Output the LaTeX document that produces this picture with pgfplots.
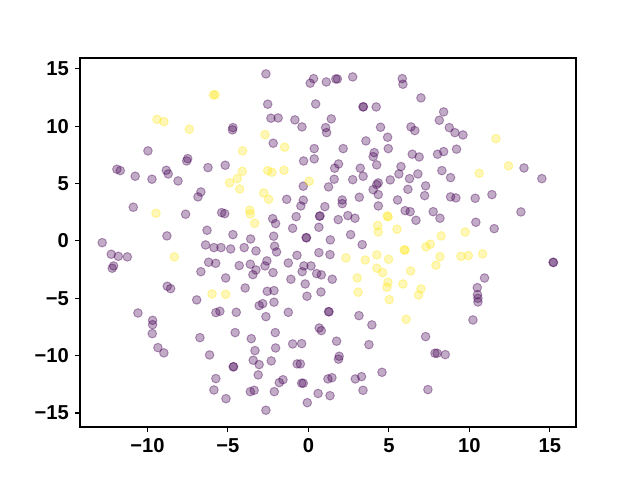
\documentclass[border=0pt]{standalone}
\usepackage{fontspec}
\setmainfont{Liberation Sans}
\usepackage{pgfplots}
\pgfplotsset{compat=1.18}
\definecolor{vpurple}{HTML}{440154}
\definecolor{vyellow}{HTML}{FDE725}
\begin{document}
\begin{tikzpicture}
\path[use as bounding box] (-57.6pt,-38.16pt) rectangle (403.2pt,307.44pt);
\begin{axis}[
  at={(0,0)}, anchor=south west,
  scale only axis, width=357.1pt, height=265.7pt,
  xmin=-14.19, xmax=16.62, ymin=-16.22, ymax=15.95,
  axis line style={line width=0.8pt, black},
  tick align=outside, major tick length=3.5pt,
  xtick pos=bottom, ytick pos=left,
  tick style={line width=0.8pt, black},
  xtick={-10,-5,0,5,10,15}, xticklabels={−10,−5,0,5,10,15},
  ytick={-15,-10,-5,0,5,10,15}, yticklabels={−15,−10,−5,0,5,10,15},
  tick label style={font=\fontsize{14.5}{16}\selectfont\bfseries},
  xticklabel style={yshift=-1pt},
  yticklabel style={xshift=-1pt},
  clip=false,
]
\addplot[only marks, mark=*, mark size=3.1pt, color=vpurple, mark options={line width=0.7pt, fill opacity=0.33, draw opacity=0.38}] table {
x y
-4.69 9.88
-4.72 9.68
-9.97 7.85
-7.5 7.18
-7.56 6.97
-11.9 6.25
-11.69 6.13
-10.76 5.64
-9.72 5.38
-8.83 6.16
-8.71 5.84
-8.1 5.23
-6.24 6.39
-5.17 6.6
-2.64 14.56
0.32 14.15
0.11 13.75
1.11 13.86
1.7 14.12
1.8 14.12
2.75 14.3
5.83 14.15
5.87 13.66
-2.53 11.92
0.45 11.94
3.39 11.68
3.42 11.7
4.21 11.68
-2.33 10.7
-1.88 10.72
-0.84 10.55
-0.4 9.94
1.42 10.64
1.07 9.88
1.13 9.44
4.48 9.91
6.37 9.94
6.61 9.62
4.92 9.04
3.57 8.72
-2.19 8.52
0.36 8.05
2.16 8.05
4.96 8.05
4.09 7.7
4.02 7.35
6.45 7.56
-0.3 6.97
0.36 7.15
1.87 6.71
1.63 6.34
3.22 6.34
4.24 6.63
3.4 5.64
5.75 6.48
5.62 5.84
6.28 5.43
1.6 5.38
2.75 5.34
4.34 5.06
5.08 5.32
6.99 12.47
8.4 11.25
8.13 10.52
8.75 9.88
9.1 9.44
9.6 9.24
6.88 7.32
8.02 7.56
8.4 7.79
9.2 8.0
13.39 6.36
14.5 5.43
6.8 5.84
8.29 6.13
8.83 5.52
7.28 4.8
-6.68 4.27
-6.86 3.84
-10.88 2.94
-7.63 2.33
-5.39 2.47
-5.2 2.38
-6.3 0.93
-4.69 0.55
-8.79 0.44
-12.81 -0.15
-6.39 -0.35
-5.87 -0.58
-5.43 -0.58
-4.83 -0.7
-3.99 -0.58
-12.25 -1.16
-11.81 -1.34
-11.25 -1.39
-12.1 -2.18
-12.19 -2.38
-6.2 -1.86
-5.76 -1.95
-6.68 -2.68
-4.3 -2.15
-5.14 -3.23
-3.93 -4.1
-8.77 -3.95
-8.56 -4.16
-6.94 -5.14
-0.32 4.77
1.25 4.71
4.24 4.91
4.02 4.47
4.34 4.04
6.18 4.5
-1.35 3.63
-0.32 3.55
-0.47 3.05
1.02 2.99
2.1 3.57
2.1 3.25
3.16 3.81
4.34 3.05
5.54 3.57
6.01 2.64
6.32 2.55
6.68 1.8
7.75 2.55
8.17 1.98
-2.22 1.94
-2.04 1.51
-0.76 2.12
0.69 2.15
0.72 2.18
0.65 1.19
-0.98 1.1
1.85 1.86
2.45 2.21
2.89 1.98
2.62 0.55
1.36 0.09
-0.14 0.29
-0.12 0.27
-2.16 0.41
-3.59 0.17
-2.1 -0.46
-1.98 -0.96
-3.26 -0.87
3.34 -0.32
-0.71 -1.25
0.65 -1.02
1.34 -1.19
-1.25 -1.92
-2.58 -1.74
-2.7 -2.18
-3.61 -2.03
-3.26 -2.53
-3.45 -2.94
-2.2 -2.76
-0.28 -2.18
0.16 -2.18
-0.39 -2.68
0.51 -2.85
0.8 -2.96
1.48 -3.34
-1.09 -3.34
-2.56 -4.39
-2.14 -4.33
-0.2 -3.75
0.78 -4.45
-0.09 -4.82
7.22 3.95
8.83 3.84
9.16 3.75
10.36 3.72
11.4 4.04
13.2 2.53
10.4 1.63
11.54 1.07
15.2 -1.86
15.22 -1.88
10.94 -3.23
10.49 -4.07
10.5 -4.68
10.53 -5.0
10.53 -5.32
-10.59 -6.28
-9.68 -6.92
-9.68 -7.3
-9.7 -8.08
-9.35 -9.3
-8.98 -9.76
-6.74 -8.43
-5.75 -6.25
-5.5 -6.13
-4.48 -6.22
-4.55 -7.99
-6.14 -9.94
-4.67 -10.98
-4.65 -10.96
-5.75 -12.0
-5.87 -12.99
-5.12 -13.75
-3.61 -13.14
-3.37 -13.02
-2.12 -13.14
-2.64 -14.76
-1.81 -12.35
-1.58 -12.1
-0.42 -12.4
-0.32 -12.4
-0.07 -14.1
0.6 -13.3
1.34 -13.49
-3.06 -5.64
-2.84 -5.47
-2.14 -5.34
-2.64 -6.6
-1.25 -6.22
1.25 -6.16
1.28 -6.18
3.14 -6.51
3.94 -7.32
-2.06 -7.99
-3.55 -8.52
0.67 -7.59
0.8 -7.82
1.75 -8.74
3.76 -9.04
-0.98 -8.98
-0.42 -8.95
-2.04 -9.33
-3.32 -9.56
1.91 -10.05
1.87 -10.31
-3.43 -10.4
-3.06 -10.78
-2.31 -10.46
-0.7 -10.72
-0.5 -10.72
-3.12 -11.68
1.21 -12.03
1.46 -11.92
2.91 -12.03
3.3 -11.83
4.57 -11.45
3.39 -13.02
10.22 -6.89
7.28 -8.34
7.86 -9.79
8.0 -9.79
8.5 -9.91
7.42 -12.96
};
\addplot[only marks, mark=*, mark size=3.1pt, color=vyellow, mark options={line width=0.7pt, fill opacity=0.33, draw opacity=0.38}] table {
x y
-5.9 12.72
-5.8 12.75
-9.41 10.6
-8.98 10.4
-7.4 9.74
-4.09 7.85
-4.11 6.07
-4.42 5.43
-4.9 5.06
-2.7 9.27
-1.48 8.17
-2.53 6.13
-2.27 5.99
-1.52 6.16
0.05 5.2
12.43 6.54
11.65 8.92
10.61 5.9
-4.27 4.53
-9.47 2.41
-3.65 2.68
-3.61 2.35
-8.33 -1.39
-5.99 -4.62
-5.14 -4.65
-2.78 4.18
-2.47 3.63
-3.34 1.54
4.9 2.18
4.95 2.1
4.3 1.34
4.34 0.78
5.5 1.02
2.33 -1.48
3.53 -1.66
4.25 -1.22
4.98 -1.6
5.95 -0.78
6.0 -0.8
4.25 -2.38
4.61 -2.76
6.35 -2.62
3.03 -3.23
3.09 -4.47
4.94 -3.6
4.88 -4.04
5.87 -3.75
5.02 -5.12
8.25 0.44
9.74 0.78
7.3 -0.52
7.57 -0.29
8.17 -1.37
9.47 -1.34
9.93 -1.28
10.82 -1.13
7.92 -2.12
6.99 -4.18
6.84 -4.71
6.07 -6.83
};
\end{axis}
\end{tikzpicture}
\end{document}
